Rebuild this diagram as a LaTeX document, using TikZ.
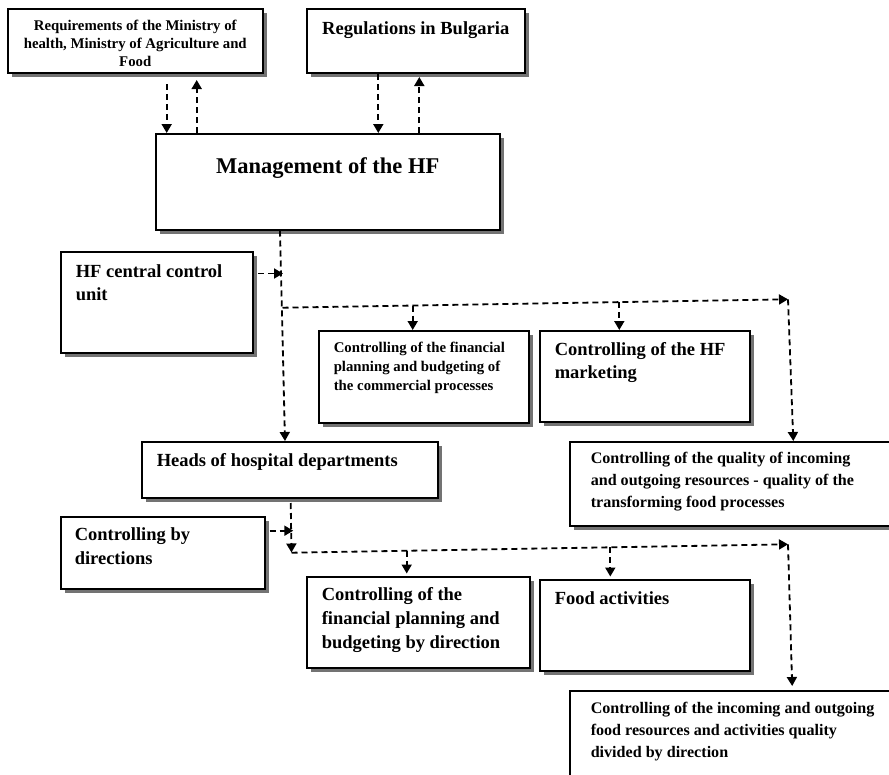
\documentclass[tikz,border=0pt]{standalone}
\usepackage{fontspec}
\setmainfont{Liberation Serif}
\usetikzlibrary{arrows.meta,shadows}
\newcommand\bxtext[7]{\begin{minipage}[t][#2pt][t]{#1pt}\fontsize{#4}{#5}\selectfont#6\vspace{#3pt}\strut #7\end{minipage}}
\tikzset{
  box/.style={draw, line width=1.5pt, fill=white, inner ysep=0pt, anchor=north west,
    font=\bfseries, drop shadow={shadow xshift=4pt, shadow yshift=-4pt, fill=black!55, opacity=1}},
  arr/.style={line width=1.8pt, dash pattern=on 6pt off 4pt, -{Triangle[length=9pt,width=10pt]}}
}
\begin{document}
\begin{tikzpicture}[x=1pt,y=-1pt]
\useasboundingbox (0,0) rectangle (889,774);
\clip (0,0) rectangle (889,774);
\fill[white] (0,0) rectangle (889,774);

% boxes
\node[box, inner xsep=5pt] (req) at (7,8) {\bxtext{245}{64}{8.9}{14.8}{18}{\centering}{Requirements of the Ministry of\\health, Ministry of Agriculture and\\Food}};
\node[box, inner xsep=5pt] (reg) at (306,8) {\bxtext{208}{64}{9.55}{18.5}{23.5}{\centering}{Regulations in Bulgaria}};
\node[box, inner xsep=5pt] (mgmt) at (155,133) {\bxtext{334}{96}{20.1}{22.5}{28}{\centering}{Management of the HF}};
\node[box, inner xsep=15pt] (cu) at (60,251) {\bxtext{162}{101}{9.25}{18.5}{23.5}{\raggedright}{HF central control\\unit}};
\node[box, inner xsep=15pt] (cfin) at (318,330) {\bxtext{180}{92}{8.4}{14.8}{19}{\raggedright}{Controlling of the financial\\planning and budgeting of\\the commercial processes}};
\node[box, inner xsep=15pt] (mkt) at (539,330) {\bxtext{180}{91}{7.85}{18.5}{23.5}{\raggedright}{Controlling of the HF\\marketing}};
\node[box, inner xsep=21pt] (qual) at (569,441) {\bxtext{294}{84}{6.8}{16.1}{21.7}{\raggedright}{Controlling of the quality of incoming\\and outgoing resources - quality of the\\transforming food processes}};
\node[box, inner xsep=15pt] (heads) at (141,441) {\bxtext{266}{56}{8.25}{18.5}{23.5}{\raggedright}{Heads of hospital departments}};
\node[box, inner xsep=14pt] (cbd) at (60,516) {\bxtext{176}{72}{7.55}{18.5}{23.5}{\raggedright}{Controlling by\\directions}};
\node[box, inner xsep=15pt] (dfin) at (306,576) {\bxtext{193}{91}{7.2}{18.5}{24}{\raggedright}{Controlling of the\\financial planning and\\budgeting by direction}};
\node[box, inner xsep=15pt] (food) at (539,579) {\bxtext{180}{91}{8.5}{18.5}{23.5}{\raggedright}{Food activities}};
\node[box, inner xsep=21pt] (dq) at (569,690) {\bxtext{299}{110}{7.8}{16.1}{21.7}{\raggedright}{Controlling of the incoming and outgoing\\food resources and activities quality\\divided by direction}};

% top connectors
\coordinate (r1) at (166.7,84);
\coordinate (r2) at (196.7,80);
\coordinate (g1) at (378.3,74);
\coordinate (g2) at (419.3,77);
\draw[arr] (r1) -- (r1 |- mgmt.north);
\draw[arr] (r2 |- mgmt.north) -- (r2);
\draw[arr] (g1) -- (g1 |- mgmt.north);
\draw[arr] (g2 |- mgmt.north) -- (g2);

% management to heads
\coordinate (m1) at (280,229);
\coordinate (h1) at (285,441);
\draw[arr] (m1 |- mgmt.south) -- (h1 |- heads.north);

% central control unit
\coordinate (c1) at (258,273.5);
\coordinate (c2) at (283,273.5);
\draw[arr] (c1) -- (c2);

% branch 1
\coordinate (b1) at (282.5,307.7);
\coordinate (b2) at (788,299.3);
\coordinate (q1) at (793.3,441);
\coordinate (d1) at (412.7,305.5);
\coordinate (d2) at (619.3,302.1);
\draw[arr] (b1) -- (b2);
\draw[arr] (b2) -- (q1 |- qual.north);
\draw[arr] (d1) -- (d1 |- cfin.north);
\draw[arr] (d2) -- (d2 |- mkt.north);

% heads down
\coordinate (h2) at (290.7,503);
\coordinate (h3) at (291.5,552.5);
\draw[arr] (h2) -- (h3);
\coordinate (k1) at (269.5,530.7);
\coordinate (k2) at (293.3,530.7);
\draw[arr] (k1) -- (k2);

% branch 2
\coordinate (e1) at (291.5,552.7);
\coordinate (e2) at (788,544.3);
\coordinate (q2) at (792.3,686);
\coordinate (d3) at (406.7,550.8);
\coordinate (d4) at (610.3,547.3);
\draw[arr] (e1) -- (e2);
\draw[arr, shorten >=4pt] (e2) -- (q2 |- dq.north);
\draw[arr, shorten >=2.5pt] (d3) -- (d3 |- dfin.north);
\draw[arr, shorten >=2.5pt] (d4) -- (d4 |- food.north);
\end{tikzpicture}
\end{document}
